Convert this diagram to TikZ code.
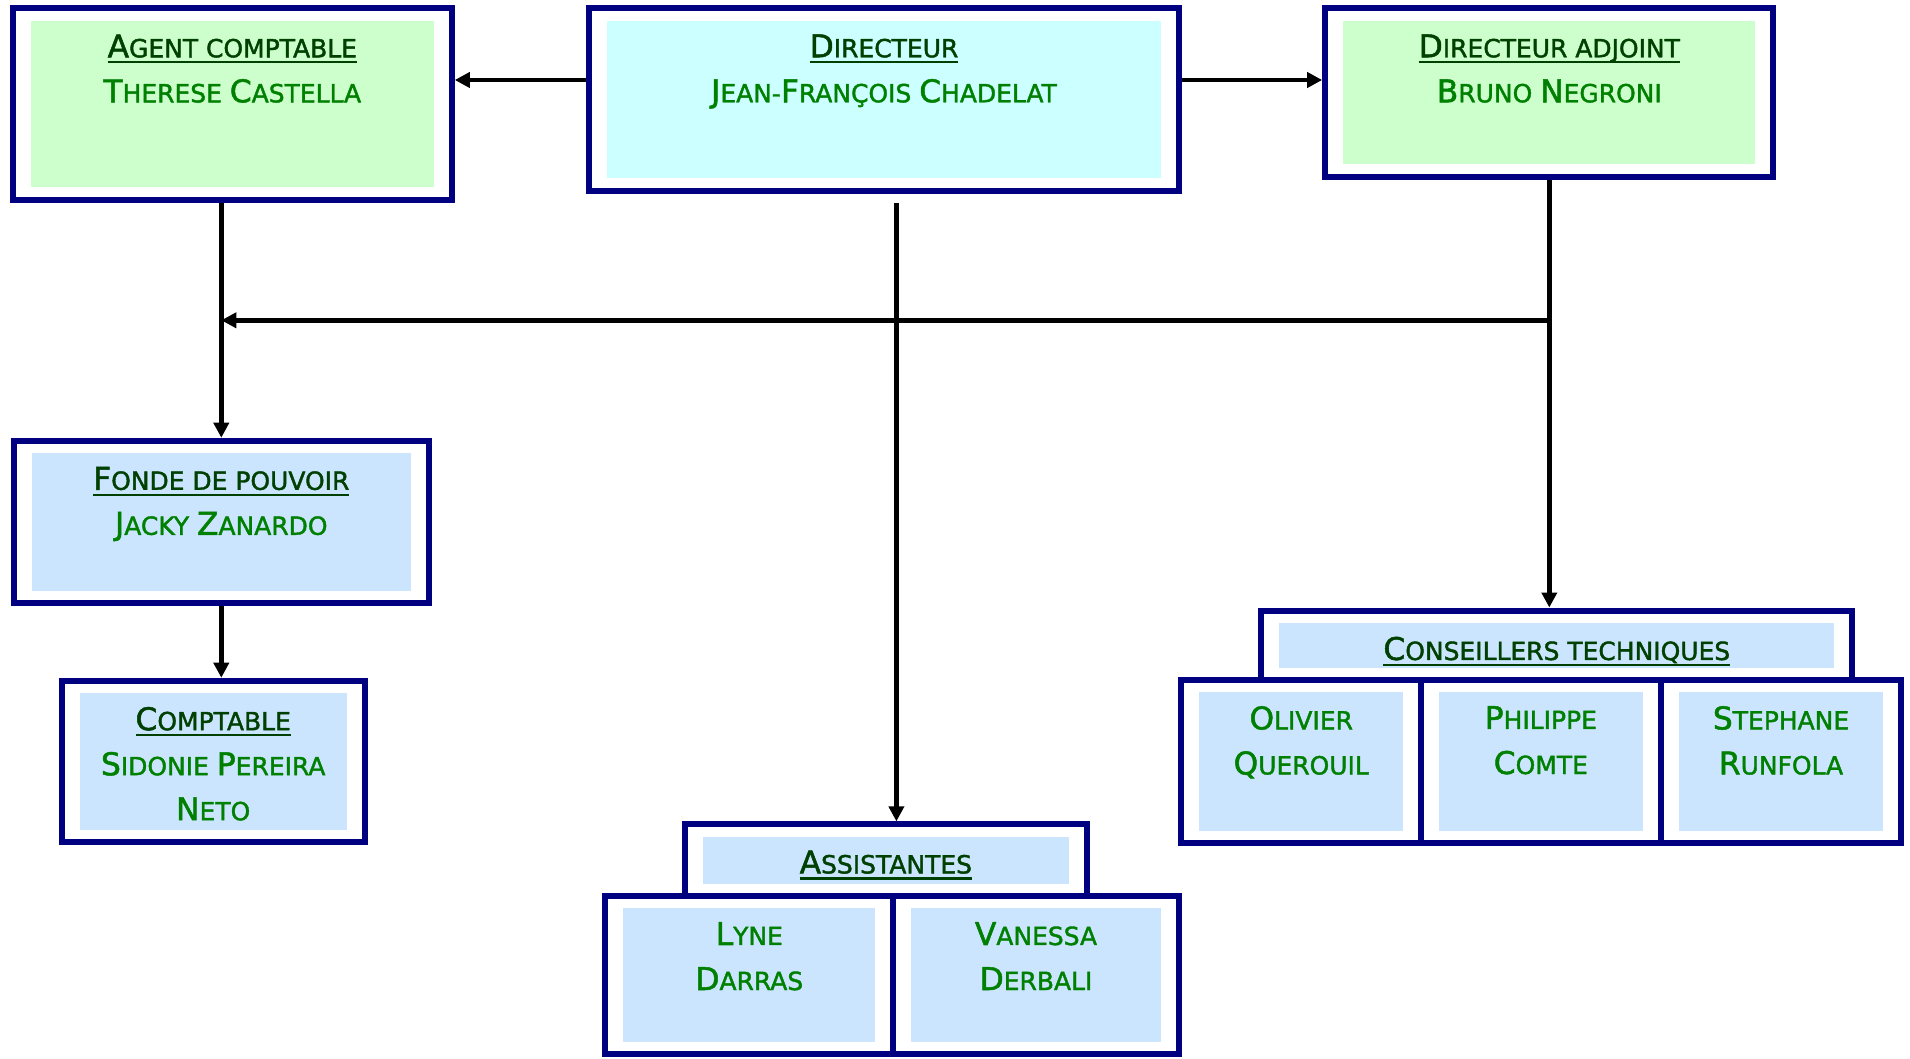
\documentclass[tikz,border=0pt]{standalone}
\usepackage{fontspec}
\setmainfont{DejaVu Sans}[BoldFont=DejaVu Sans, BoldFeatures={FakeBold=1.6}]
\usetikzlibrary{positioning,arrows.meta}

\definecolor{marine}{RGB}{0,0,128}
\definecolor{vertclair}{RGB}{204,255,204}
\definecolor{cyanclair}{RGB}{204,255,255}
\definecolor{bleuclair}{RGB}{204,229,255}
\definecolor{vertnom}{RGB}{0,128,0}
\definecolor{verttitre}{RGB}{0,64,0}

\newcommand\grand[1]{{\fontsize{8.9}{12.8}\selectfont #1}}
\newcommand\souligne[1]{\setbox0=\hbox{#1}\rlap{\rule[-1.75pt]{\wd0}{0.65pt}}\box0}
\newcommand\titre[1]{\textcolor{verttitre}{\souligne{#1}}}

\tikzset{
  boite/.style={draw=marine, line width=0.6mm, fill=white, inner sep=0pt,
    path picture={\fill[#1] ([shift={(1.8mm,1.25mm)}]path picture bounding box.south west)
      rectangle ([shift={(-1.8mm,-1.25mm)}]path picture bounding box.north east);}},
  texte/.style={text=vertnom, align=center, inner sep=0pt,
    font=\fontsize{7.1}{12.8}\selectfont\bfseries},
  fleche/.style={line width=0.45mm, -{Triangle[length=1.5mm,width=1.5mm]}},
}

\begin{document}
\begin{tikzpicture}[x=0.01cm, y=-0.01cm]
  \useasboundingbox (0,0) rectangle (1910,1058);

  % direction
  \node[boite=vertclair, minimum width=4.387cm, minimum height=1.913cm] (agent) at (232.3,104) {};
  \node[boite=cyanclair, minimum width=5.895cm, minimum height=1.824cm] (dir) at (884,99.5) {};
  \node[boite=vertclair, minimum width=4.48cm, minimum height=1.684cm] (adj) at (1549.3,92.5) {};

  % comptabilite
  \node[boite=bleuclair, minimum width=4.15cm, minimum height=1.624cm] (fonde) at (221.3,522) {};
  \node[boite=bleuclair, minimum width=3.027cm, minimum height=1.614cm] (compta) at (213.2,761.5) {};

  % assistantes
  \node[boite=bleuclair, minimum width=2.88cm, minimum height=1.58cm] (lyne) at (749.3,975) {};
  \node[boite=bleuclair, minimum width=2.855cm, minimum height=1.58cm] (vanessa) at (1036,975) {};
  \node[boite=bleuclair, minimum width=4.017cm, minimum height=0.716cm] (assist) at (885.8,860.2) {};

  % conseillers
  \node[boite=bleuclair, minimum width=2.397cm, minimum height=1.63cm] (olivier) at (1301.2,761.5) {};
  \node[boite=bleuclair, minimum width=2.396cm, minimum height=1.63cm] (philippe) at (1540.8,761.5) {};
  \node[boite=bleuclair, minimum width=2.407cm, minimum height=1.63cm] (stephane) at (1781,761.5) {};
  \node[boite=bleuclair, minimum width=5.905cm, minimum height=0.695cm] (cons) at (1556.8,645.3) {};

  % textes
  \node[texte, below=2.85mm of agent.north] (agent-t) {\titre{\grand{A}GENT COMPTABLE}\\\grand{T}HERESE \grand{C}ASTELLA};
  \node[texte, below=2.85mm of dir.north] (dir-t) {\titre{\grand{D}IRECTEUR}\\\grand{J}EAN-\grand{F}RANÇOIS \grand{C}HADELAT};
  \node[texte, below=2.85mm of adj.north] (adj-t) {\titre{\grand{D}IRECTEUR ADJOINT}\\\grand{B}RUNO \grand{N}EGRONI};
  \node[texte, below=2.85mm of fonde.north] (fonde-t) {\titre{\grand{F}ONDE DE POUVOIR}\\\grand{J}ACKY \grand{Z}ANARDO};
  \node[texte, below=2.85mm of compta.north] (compta-t) {\titre{\grand{C}OMPTABLE}\\\grand{S}IDONIE \grand{P}EREIRA\\\grand{N}ETO};
  \node[texte, below=2.85mm of assist.north] (assist-t) {\titre{\grand{A}SSISTANTES}};
  \node[texte, below=2.85mm of lyne.north] (lyne-t) {\grand{L}YNE\\\grand{D}ARRAS};
  \node[texte, below=2.85mm of vanessa.north] (vanessa-t) {\grand{V}ANESSA\\\grand{D}ERBALI};
  \node[texte, below=2.85mm of cons.north] (cons-t) {\titre{\grand{C}ONSEILLERS TECHNIQUES}};
  \node[texte, below=2.85mm of olivier.north] (olivier-t) {\grand{O}LIVIER\\\grand{Q}UEROUIL};
  \node[texte, below=2.85mm of philippe.north] (philippe-t) {\grand{P}HILIPPE\\\grand{C}OMTE};
  \node[texte, below=2.85mm of stephane.north] (stephane-t) {\grand{S}TEPHANE\\\grand{R}UNFOLA};

  % liaisons
  \coordinate (haut) at (0,80);
  \coordinate (niveau) at (0,320.3);
  \draw[fleche] (dir.west |- haut) -- (agent.east |- haut);
  \draw[fleche] (dir.east |- haut) -- (adj.west |- haut);
  \draw[fleche] (agent.south -| fonde.north) -- (fonde.north);
  \draw[fleche] (adj.south |- niveau) -- (fonde.north |- niveau);
  \draw[fleche] (adj.south) -- (adj.south |- cons.north);
  \draw[fleche, shorten <=0.9mm] (lyne.east |- dir.south) -- (lyne.east |- assist.north);
  \draw[fleche] (fonde.south) -- (fonde.south |- compta.north);
\end{tikzpicture}
\end{document}
